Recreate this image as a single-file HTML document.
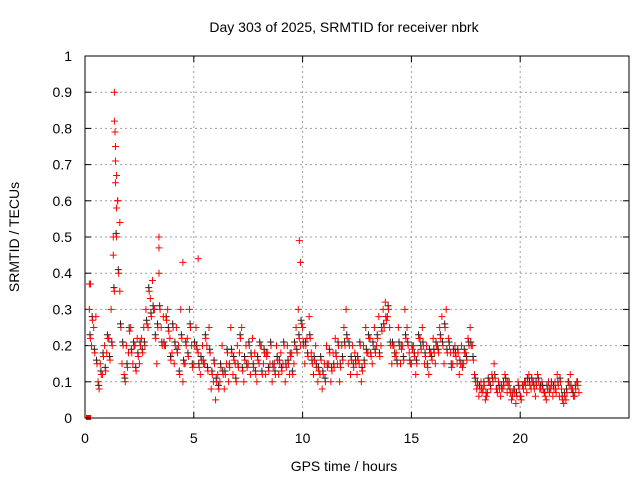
<!DOCTYPE html>
<html><head><meta charset="utf-8"><style>
body{margin:0;background:#fff}
svg{display:block;font-family:"Liberation Sans",sans-serif}
</style></head><body>
<svg id="c" width="640" height="480">
<rect width="640" height="480" fill="#fff"/>
<text x="344" y="32" text-anchor="middle" font-size="14">Day 303 of 2025, SRMTID for receiver nbrk</text>
<text x="344" y="471" text-anchor="middle" font-size="14">GPS time / hours</text>
<text transform="translate(19,237) rotate(-90)" text-anchor="middle" font-size="14">SRMTID / TECUs</text>
<g id="grid"></g><g id="ticks"></g><g id="marks"></g>
<rect x="85" y="56" width="544" height="362" fill="none" stroke="#000"/>
</svg>
<script>
const xTicks=[0,5,10,15,20,25];
const xTickLabels=["0","5","10","15","20",""];
const yTicks=[0,0.1,0.2,0.3,0.4,0.5,0.6,0.7,0.8,0.9,1];
const yTickLabels=["0","0.1","0.2","0.3","0.4","0.5","0.6","0.7","0.8","0.9","1"];
const tStart=0.2, tStep=0.1;
const redA=[0.3,0.2,0.25,0.28,0.1,0.15,0.12,0.2,0.18,0.22,0.3,0.45,0.65,0.6,0.35,0.15,0.12,0.2,0.18,0.25,0.15,0.2,0.22,0.15,0.22,0.25,0.3,0.25,0.33,0.38,0.3,0.15,0.4,0.25,0.28,0.2,0.3,0.22,0.18,0.15,0.25,0.2,0.3,0.1,0.15,0.22,0.3,0.2,0.15,0.25,0.18,0.12,0.2,0.15,0.2,0.25,0.08,0.1,0.05,0.12,0.1,0.2,0.08,0.15,0.1,0.25,0.12,0.15,0.2,0.18,0.25,0.1,0.2,0.15,0.12,0.22,0.18,0.1,0.15,0.2,0.15,0.12,0.18,0.15,0.1,0.15,0.2,0.12,0.18,0.15,0.1,0.2,0.12,0.18,0.15,0.25,0.3,0.2,0.25,0.15,0.22,0.28,0.18,0.12,0.2,0.1,0.12,0.08,0.15,0.2,0.15,0.1,0.18,0.22,0.15,0.1,0.2,0.25,0.3,0.15,0.12,0.2,0.18,0.12,0.15,0.1,0.2,0.25,0.18,0.22,0.15,0.25,0.2,0.28,0.2,0.3,0.32,0.28,0.25,0.15,0.2,0.18,0.25,0.15,0.2,0.3,0.25,0.18,0.15,0.2,0.12,0.18,0.22,0.25,0.15,0.2,0.12,0.18,0.22,0.15,0.2,0.25,0.28,0.15,0.3,0.22,0.18,0.15,0.2,0.15,0.12,0.2,0.15,0.18,0.22,0.25,0.2,0.12,0.08,0.06,0.1,0.08,0.05,0.07,0.1,0.12,0.15,0.08,0.1,0.06,0.08,0.12,0.07,0.1,0.05,0.08,0.04,0.1,0.06,0.09,0.1,0.07,0.12,0.08,0.1,0.06,0.12,0.08,0.1,0.07,0.05,0.1,0.08,0.06,0.1,0.12,0.06,0.08,0.04,0.05,0.1,0.12,0.08,0.06,0.1,0.07];
const redB=[0.22,0.27,0.18,0.15,0.08,0.12,0.17,0.13,0.22,0.16,0.2,0.35,0.5,0.4,0.25,0.2,0.1,0.14,0.24,0.18,0.2,0.13,0.17,0.2,0.18,0.2,0.26,0.35,0.28,0.3,0.22,0.25,0.3,0.2,0.2,0.27,0.24,0.16,0.25,0.2,0.18,0.12,0.22,0.15,0.2,0.17,0.25,0.14,0.2,0.19,0.14,0.16,0.15,0.22,0.13,0.18,0.12,0.15,0.1,0.08,0.14,0.12,0.12,0.18,0.14,0.18,0.16,0.1,0.14,0.22,0.13,0.16,0.14,0.2,0.17,0.14,0.12,0.16,0.2,0.12,0.18,0.17,0.13,0.2,0.14,0.12,0.16,0.15,0.13,0.2,0.14,0.15,0.17,0.12,0.2,0.18,0.22,0.26,0.2,0.2,0.17,0.22,0.15,0.16,0.14,0.13,0.16,0.12,0.1,0.14,0.18,0.13,0.14,0.17,0.2,0.14,0.16,0.2,0.22,0.2,0.16,0.14,0.15,0.16,0.2,0.13,0.15,0.18,0.22,0.17,0.2,0.18,0.22,0.17,0.24,0.25,0.27,0.3,0.2,0.2,0.17,0.15,0.2,0.19,0.16,0.22,0.2,0.15,0.19,0.17,0.15,0.22,0.19,0.2,0.17,0.14,0.18,0.16,0.18,0.2,0.18,0.22,0.2,0.25,0.18,0.2,0.14,0.18,0.17,0.18,0.15,0.14,0.18,0.16,0.2,0.2,0.16,0.1,0.09,0.08,0.07,0.09,0.06,0.1,0.08,0.1,0.11,0.07,0.08,0.08,0.09,0.1,0.09,0.07,0.06,0.07,0.06,0.08,0.05,0.08,0.09,0.1,0.09,0.1,0.08,0.09,0.1,0.08,0.08,0.06,0.08,0.07,0.09,0.08,0.07,0.09,0.1,0.05,0.06,0.07,0.09,0.08,0.06,0.08,0.09];
const spikeT=[1.35,1.35,1.38,1.4,1.4,1.45,1.5,1.45,1.3,1.6,3.4,3.4,9.85,9.9,5.2,4.5,0.2,0.25];
const spikeV=[0.9,0.82,0.79,0.75,0.71,0.67,0.6,0.58,0.5,0.54,0.5,0.47,0.49,0.43,0.44,0.43,0.37,0.37];
const X0=85,X1=629,Y0=418,Y1=56;
const xs=t=>X0+t/25*(X1-X0), ys=v=>Y0-v*(Y0-Y1);
const NS="http://www.w3.org/2000/svg";
function mk(tag,attrs,parent){const e=document.createElementNS(NS,tag);for(const k in attrs)e.setAttribute(k,attrs[k]);parent.appendChild(e);return e;}
const grid=document.getElementById('grid'),tk=document.getElementById('ticks'),mg=document.getElementById('marks');
yTicks.forEach((v,i)=>{const y=ys(v);
 if(i>0&&i<yTicks.length-1){const g=mk('line',{x1:X0,x2:X1,y1:y,y2:y,stroke:'#a0a0a0','stroke-dasharray':'2,3'},grid);}
 mk('line',{x1:X0,x2:X0+6,y1:y,y2:y,stroke:'#000'},tk);mk('line',{x1:X1,x2:X1-6,y1:y,y2:y,stroke:'#000'},tk);
 const t=mk('text',{x:72,y:y+5,'text-anchor':'end','font-size':'14'},tk);t.textContent=yTickLabels[i];
 });
xTicks.forEach((v,i)=>{const x=xs(v);
 if(i>0&&i<xTicks.length-1){const g=mk('line',{x1:x,x2:x,y1:Y0,y2:Y1,stroke:'#a0a0a0','stroke-dasharray':'2,3'},grid);}
 mk('line',{x1:x,x2:x,y1:Y0,y2:Y0-6,stroke:'#000'},tk);mk('line',{x1:x,x2:x,y1:Y1,y2:Y1+6,stroke:'#000'},tk);
 const t=mk('text',{x:x,y:443,'text-anchor':'middle','font-size':'14'},tk);t.textContent=xTickLabels[i];
 });
function plus(t,v,col){const x=xs(t),y=ys(v);
 const p=mk('path',{d:`M${x-3.5},${y}h7M${x},${y-3.5}v7`,stroke:col,'stroke-width':1},mg);
 }
redB.forEach((v,i)=>plus(tStart+i*tStep+0.03,v+0.01,'#202020'));
redA.forEach((v,i)=>plus(tStart+i*tStep,v,'#ff0000'));
redB.forEach((v,i)=>plus(tStart+i*tStep+0.05,v,'#ff0000'));
spikeT.forEach((t,i)=>plus(t,spikeV[i],'#ff0000'));
const sq=mk('rect',{x:xs(0)+1,y:Y0-3,width:5,height:5,fill:'#ff0000'},mg);

</script>
</body></html>
